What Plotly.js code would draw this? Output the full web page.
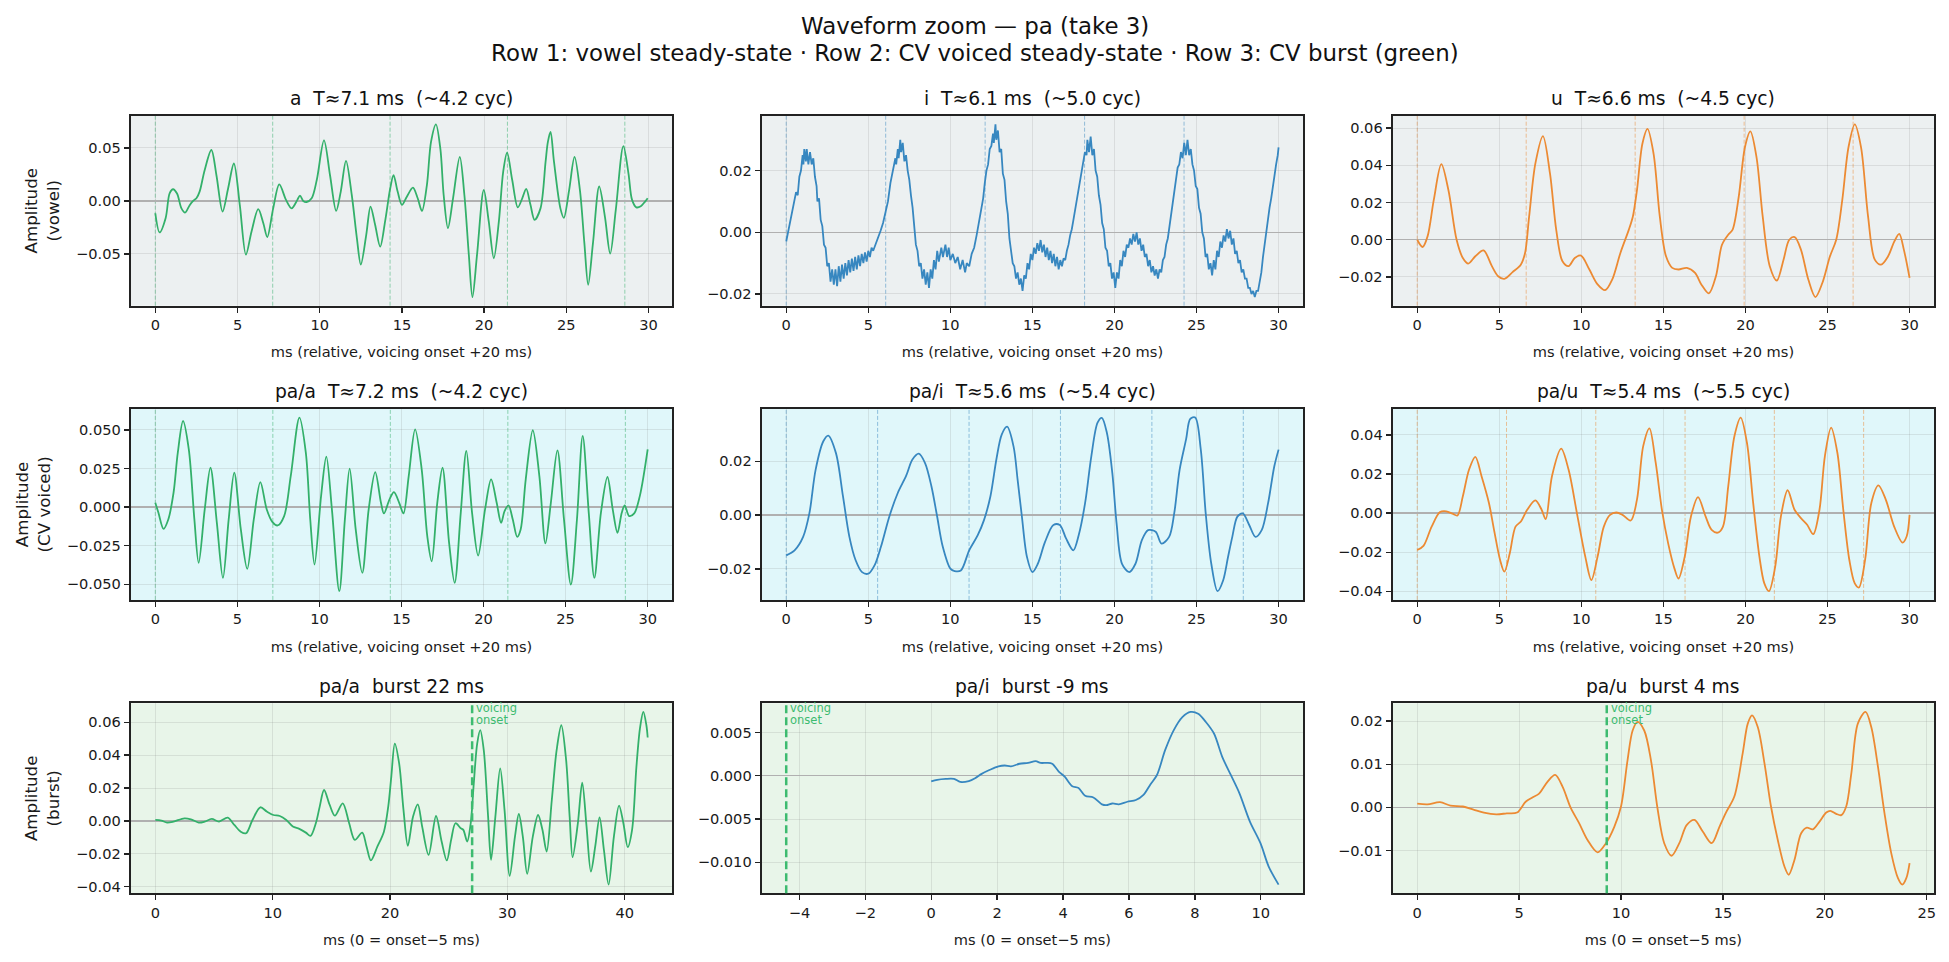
<!DOCTYPE html>
<html>
<head>
<meta charset="utf-8">
<script src="https://cdn.plot.ly/plotly-3.0.1.min.js"></script>
<style>
  html, body { margin: 0; padding: 0; background: #ffffff; }
  #chart { width: 1949px; height: 962px; }
</style>
</head>
<body>
<div id="chart"></div>
<script>
// ---- waveform samples: [time (ms), amplitude] ----
const vowelA = [[0,-0.0116],[0.26,-0.0297],[0.63,-0.016],[0.87,0.0072],[1.08,0.011],[1.32,0.007],[1.59,-0.007],[1.81,-0.011],[2.09,-0.004],[2.3,0],[2.5,0.0025],[2.7,0.009],[3.0,0.029],[3.41,0.048],[3.72,0.024],[4.09,-0.010],[4.43,0.012],[4.78,0.0353],[5.14,-0.004],[5.51,-0.0506],[5.85,-0.029],[6.26,-0.0078],[6.57,-0.021],[6.81,-0.034],[7.17,-0.007],[7.54,0.0156],[7.95,0.001],[8.29,-0.007],[8.64,0.001],[8.8,0.005],[9.0,0],[9.2,-0.001],[9.51,0.0025],[9.82,0.0197],[10.26,0.057],[10.63,0.024],[11.0,-0.0094],[11.28,0.0088],[11.6,0.0378],[11.95,0.0056],[12.26,-0.035],[12.5,-0.060],[12.83,-0.032],[13.09,-0.0053],[13.37,-0.0225],[13.68,-0.043],[13.98,-0.019],[14.29,0.012],[14.49,0.0244],[14.74,0.0088],[15.0,-0.0037],[15.3,0.004],[15.67,0.0125],[15.96,0.0025],[16.22,-0.0094],[16.52,0.015],[16.77,0.0556],[17.07,0.0722],[17.34,0.049],[17.54,0.0056],[17.8,-0.0256],[18.11,0.0025],[18.52,0.0416],[18.8,0.0056],[19.07,-0.0506],[19.29,-0.0906],[19.57,-0.0506],[19.98,0.0103],[20.28,-0.019],[20.59,-0.054],[20.9,-0.019],[21.16,0.0275],[21.4,0.0456],[21.71,0.0197],[22.05,-0.006],[22.32,0.0025],[22.56,0.0113],[22.82,-0.0037],[23.07,-0.0178],[23.43,-0.007],[23.74,0.037],[23.88,0.0556],[24.04,0.065],[24.25,0.037],[24.64,-0.007],[24.85,-0.016],[25.17,0.010],[25.5,0.0415],[25.83,0.010],[26.1,-0.040],[26.33,-0.079],[26.62,-0.040],[27.0,0.0136],[27.35,-0.015],[27.67,-0.0497],[28.01,-0.0085],[28.47,0.0516],[28.78,0.026],[29.0,0.001],[29.26,-0.006],[29.53,-0.005],[29.79,-0.0006],[29.95,0.0025]];

const vowelI = [[0,-0.003],[0.15,0.001],[0.3,0.005],[0.45,0.008],[0.6,0.013],[0.7,0.012],[0.8,0.018],[0.9,0.020],[1.0,0.025],[1.05,0.022],[1.1,0.027],[1.2,0.023],[1.25,0.027],[1.35,0.022],[1.45,0.026],[1.55,0.022],[1.65,0.024],[1.75,0.018],[1.85,0.015],[1.9,0.010],[2.0,0.011],[2.1,0.004],[2.2,0.002],[2.3,-0.004],[2.4,-0.005],[2.5,-0.011],[2.6,-0.010],[2.7,-0.016],[2.8,-0.012],[2.9,-0.017],[3.0,-0.012],[3.1,-0.0175],[3.2,-0.011],[3.3,-0.016],[3.4,-0.0105],[3.5,-0.015],[3.6,-0.010],[3.7,-0.014],[3.8,-0.009],[3.9,-0.013],[4.0,-0.0085],[4.1,-0.0125],[4.2,-0.008],[4.3,-0.012],[4.4,-0.0075],[4.5,-0.011],[4.6,-0.007],[4.7,-0.010],[4.8,-0.0065],[4.9,-0.0095],[5.0,-0.006],[5.1,-0.008],[5.2,-0.005],[5.3,-0.006],[5.45,-0.004],[5.6,-0.002],[5.75,0.0005],[5.9,0.003],[6.05,0.007],[6.2,0.010],[6.35,0.016],[6.45,0.019],[6.55,0.022],[6.65,0.024],[6.7,0.022],[6.8,0.027],[6.85,0.024],[6.95,0.030],[7.0,0.026],[7.1,0.029],[7.2,0.023],[7.3,0.025],[7.4,0.020],[7.5,0.017],[7.6,0.012],[7.7,0.008],[7.8,0.002],[7.9,-0.004],[8.0,-0.006],[8.1,-0.011],[8.2,-0.010],[8.3,-0.015],[8.4,-0.012],[8.5,-0.017],[8.6,-0.013],[8.7,-0.018],[8.8,-0.012],[8.9,-0.015],[9.0,-0.009],[9.1,-0.012],[9.2,-0.006],[9.3,-0.0095],[9.45,-0.005],[9.55,-0.008],[9.7,-0.004],[9.8,-0.008],[9.9,-0.005],[10.0,-0.009],[10.15,-0.007],[10.3,-0.010],[10.45,-0.008],[10.6,-0.012],[10.75,-0.009],[10.9,-0.013],[11.0,-0.010],[11.15,-0.011],[11.3,-0.007],[11.45,-0.005],[11.6,-0.001],[11.75,0.004],[11.9,0.009],[12.0,0.011],[12.1,0.016],[12.2,0.020],[12.3,0.022],[12.4,0.027],[12.5,0.028],[12.6,0.032],[12.65,0.029],[12.75,0.035],[12.8,0.030],[12.9,0.033],[13.0,0.026],[13.1,0.027],[13.2,0.019],[13.3,0.017],[13.4,0.010],[13.5,0.006],[13.6,-0.002],[13.7,-0.006],[13.8,-0.010],[13.9,-0.011],[14.0,-0.015],[14.1,-0.013],[14.2,-0.017],[14.3,-0.015],[14.4,-0.019],[14.5,-0.014],[14.6,-0.015],[14.7,-0.010],[14.8,-0.012],[14.9,-0.007],[15.0,-0.009],[15.1,-0.005],[15.2,-0.007],[15.3,-0.0035],[15.4,-0.006],[15.5,-0.0025],[15.6,-0.0065],[15.7,-0.004],[15.8,-0.008],[15.9,-0.005],[16.0,-0.009],[16.1,-0.006],[16.2,-0.010],[16.3,-0.007],[16.4,-0.011],[16.5,-0.008],[16.6,-0.012],[16.7,-0.009],[16.8,-0.011],[16.9,-0.0085],[17.0,-0.009],[17.1,-0.006],[17.2,-0.004],[17.3,-0.001],[17.4,0.001],[17.5,0.004],[17.6,0.007],[17.7,0.010],[17.8,0.013],[17.9,0.016],[18.0,0.020],[18.1,0.022],[18.2,0.026],[18.3,0.025],[18.35,0.030],[18.45,0.026],[18.55,0.031],[18.65,0.025],[18.75,0.027],[18.85,0.020],[18.95,0.018],[19.05,0.012],[19.15,0.009],[19.25,0.003],[19.35,0.001],[19.45,-0.005],[19.55,-0.006],[19.65,-0.011],[19.75,-0.010],[19.85,-0.015],[19.95,-0.013],[20.05,-0.018],[20.15,-0.013],[20.25,-0.015],[20.35,-0.009],[20.45,-0.011],[20.55,-0.006],[20.65,-0.008],[20.75,-0.004],[20.85,-0.005],[20.95,-0.002],[21.05,-0.004],[21.15,-0.0005],[21.25,-0.003],[21.35,0.0],[21.45,-0.004],[21.55,-0.002],[21.65,-0.006],[21.75,-0.004],[21.85,-0.008],[21.95,-0.007],[22.05,-0.011],[22.15,-0.009],[22.25,-0.013],[22.35,-0.011],[22.45,-0.014],[22.55,-0.012],[22.65,-0.015],[22.75,-0.012],[22.85,-0.013],[22.95,-0.009],[23.05,-0.008],[23.15,-0.004],[23.25,-0.002],[23.35,0.002],[23.45,0.005],[23.55,0.010],[23.65,0.013],[23.75,0.017],[23.85,0.021],[23.95,0.022],[24.05,0.026],[24.15,0.024],[24.25,0.029],[24.35,0.025],[24.45,0.030],[24.55,0.025],[24.65,0.027],[24.75,0.022],[24.85,0.020],[24.95,0.015],[25.05,0.014],[25.15,0.008],[25.25,0.006],[25.35,0.000],[25.45,-0.002],[25.55,-0.008],[25.65,-0.007],[25.75,-0.012],[25.85,-0.010],[25.95,-0.014],[26.05,-0.009],[26.15,-0.012],[26.25,-0.006],[26.35,-0.008],[26.45,-0.003],[26.55,-0.005],[26.65,-0.001],[26.75,-0.003],[26.85,0.001],[26.95,-0.002],[27.05,0.0005],[27.15,-0.004],[27.25,-0.002],[27.35,-0.007],[27.45,-0.006],[27.55,-0.010],[27.65,-0.009],[27.75,-0.013],[27.85,-0.012],[27.95,-0.015],[28.05,-0.015],[28.15,-0.018],[28.25,-0.018],[28.35,-0.020],[28.45,-0.019],[28.55,-0.021],[28.65,-0.019],[28.75,-0.019],[28.85,-0.016],[28.95,-0.013],[29.05,-0.008],[29.15,-0.004],[29.25,0.001],[29.35,0.004],[29.45,0.008],[29.55,0.011],[29.65,0.015],[29.75,0.018],[29.85,0.022],[29.95,0.025],[30.0,0.0275]];

const vowelU = [[0,0],[0.33,-0.0039],[0.63,0.0018],[1.01,0.0214],[1.47,0.0406],[1.9,0.0267],[2.4,0.0],[2.78,-0.0098],[3.11,-0.0128],[3.54,-0.0089],[4.04,-0.0057],[4.55,-0.0142],[4.93,-0.0196],[5.31,-0.021],[5.81,-0.0174],[6.31,-0.0134],[6.57,-0.0071],[6.82,0.0125],[7.2,0.041],[7.66,0.0557],[8.09,0.0356],[8.47,0.0053],[8.85,-0.0116],[9.22,-0.0142],[9.6,-0.0098],[9.98,-0.0085],[10.49,-0.016],[10.99,-0.024],[11.45,-0.0271],[11.88,-0.0214],[12.38,-0.0071],[12.89,0.0053],[13.14,0.0125],[13.39,0.0267],[13.72,0.0516],[14.03,0.0596],[14.4,0.0463],[14.78,0.0125],[15.16,-0.0089],[15.54,-0.0151],[15.92,-0.016],[16.43,-0.0151],[16.93,-0.0178],[17.31,-0.024],[17.77,-0.0288],[18.2,-0.0196],[18.57,-0.0027],[18.95,0.0027],[19.21,0.0053],[19.59,0.0231],[19.97,0.0498],[20.3,0.0582],[20.67,0.0445],[21.05,0.0125],[21.48,-0.0142],[21.91,-0.0219],[22.32,-0.0107],[22.67,0.0],[23.0,0.0014],[23.38,-0.0053],[23.83,-0.0214],[24.26,-0.0308],[24.69,-0.0231],[25.15,-0.0089],[25.53,0.0],[25.9,0.0214],[26.28,0.0498],[26.66,0.062],[27.04,0.0498],[27.47,0.0125],[27.88,-0.0107],[28.26,-0.0134],[28.69,-0.0089],[29.07,-0.0009],[29.37,0.0032],[29.65,-0.0053],[30.0,-0.0205]];

const cvA = [[0,0.0028],[0.19,-0.0037],[0.5,-0.0141],[0.79,-0.008],[1.11,0.0093],[1.37,0.0353],[1.69,0.0558],[2.04,0.0374],[2.38,-0.008],[2.64,-0.0361],[3.01,-0.0015],[3.36,0.0255],[3.75,-0.0102],[4.12,-0.0459],[4.47,-0.008],[4.81,0.0223],[5.21,-0.0145],[5.6,-0.040],[6.0,-0.008],[6.4,0.0162],[6.79,-0.0015],[7.14,-0.0097],[7.45,-0.0119],[7.85,-0.0058],[8.25,0.020],[8.78,0.058],[9.17,0.0353],[9.44,-0.008],[9.7,-0.0372],[10.1,0.0071],[10.42,0.0327],[10.76,-0.0015],[11.21,-0.0545],[11.55,-0.008],[11.84,0.0249],[12.21,-0.0145],[12.61,-0.0426],[13.0,-0.0015],[13.4,0.0227],[13.75,0.0028],[13.93,-0.0041],[14.27,0.005],[14.54,0.0097],[14.86,0.0028],[15.12,-0.0041],[15.44,0.0201],[15.83,0.0504],[16.23,0.0245],[16.57,-0.0188],[16.84,-0.0351],[17.18,0.0028],[17.5,0.0255],[17.9,-0.0232],[18.24,-0.0491],[18.61,-0.0037],[18.95,0.0364],[19.3,-0.0037],[19.67,-0.0314],[20.09,-0.0015],[20.46,0.018],[20.8,0.0028],[21.07,-0.0102],[21.28,-0.0026],[21.52,0.0011],[21.78,-0.008],[22.05,-0.0193],[22.26,-0.0145],[22.57,0.018],[23.0,0.0498],[23.4,0.0201],[23.77,-0.0235],[24.1,0.0028],[24.5,0.0368],[24.9,-0.008],[25.32,-0.0502],[25.69,-0.008],[26.04,0.0461],[26.41,-0.0037],[26.75,-0.0459],[27.15,-0.0037],[27.55,0.0195],[27.87,-0.0015],[28.16,-0.0167],[28.42,-0.0037],[28.6,0.0011],[28.87,-0.0058],[29.18,-0.0041],[29.52,0.0071],[30.0,0.0374]];

const cvI = [[0,-0.015],[0.51,-0.0131],[1.03,-0.0081],[1.41,0.0006],[1.79,0.0168],[2.26,0.0274],[2.56,0.0295],[3.03,0.023],[3.46,0.0069],[3.85,-0.0081],[4.23,-0.0168],[4.62,-0.0212],[5.0,-0.0218],[5.38,-0.0187],[5.77,-0.0118],[6.28,-0.0006],[6.79,0.0081],[7.31,0.0146],[7.69,0.0206],[8.08,0.0228],[8.46,0.0193],[8.85,0.0106],[9.18,0.0],[9.54,-0.0118],[10.0,-0.0199],[10.26,-0.0208],[10.64,-0.0206],[11.15,-0.0131],[11.67,-0.0075],[12.05,-0.0019],[12.44,0.0069],[12.82,0.0212],[13.13,0.0299],[13.46,0.0328],[13.85,0.0255],[14.1,0.0131],[14.36,-0.0006],[14.67,-0.0156],[15.0,-0.0212],[15.33,-0.0181],[15.77,-0.01],[16.28,-0.0037],[16.67,-0.0037],[17.05,-0.0087],[17.49,-0.0131],[17.82,-0.0075],[18.21,0.0044],[18.59,0.0218],[18.97,0.0343],[19.23,0.0361],[19.54,0.0305],[19.87,0.0156],[20.13,-0.0031],[20.46,-0.0181],[20.9,-0.0212],[21.28,-0.0181],[21.67,-0.0093],[22.05,-0.0056],[22.51,-0.0062],[22.87,-0.0106],[23.33,-0.0081],[23.64,0.0006],[23.97,0.0168],[24.36,0.028],[24.62,0.0357],[24.92,0.0362],[25.26,0.0243],[25.56,0.0006],[25.9,-0.0181],[26.28,-0.0283],[26.62,-0.0243],[26.92,-0.0156],[27.18,-0.0081],[27.49,-0.0006],[27.82,0.0006],[28.21,-0.0037],[28.59,-0.0081],[28.97,-0.0056],[29.36,0.0044],[29.74,0.0181],[30.0,0.0243]];

const cvU = [[0,-0.0189],[0.38,-0.0168],[0.88,-0.0069],[1.39,0.0005],[1.77,0.0009],[2.15,-0.0003],[2.45,-0.0012],[2.78,0.0086],[3.16,0.0223],[3.54,0.0288],[3.92,0.0189],[4.37,0.0052],[4.68,-0.0086],[5.05,-0.024],[5.31,-0.030],[5.64,-0.0206],[5.99,-0.0069],[6.32,-0.0043],[6.7,0.0017],[7.2,0.0065],[7.58,0.0017],[7.83,-0.0031],[8.21,0.0189],[8.77,0.033],[9.22,0.0223],[9.73,0.0],[10.24,-0.0223],[10.61,-0.0343],[10.99,-0.0223],[11.37,-0.0069],[11.75,-0.0009],[12.13,0.0003],[12.51,-0.0009],[13.01,-0.0038],[13.39,0.0069],[13.77,0.0343],[14.15,0.0434],[14.53,0.0258],[14.91,0.0017],[15.29,-0.0155],[15.67,-0.0283],[15.92,-0.0335],[16.3,-0.0223],[16.68,-0.0017],[17.11,0.0082],[17.57,-0.0017],[17.94,-0.0086],[18.32,-0.01],[18.63,-0.0069],[18.95,0.0137],[19.33,0.0395],[19.71,0.0489],[20.09,0.036],[20.47,0.0052],[20.85,-0.0223],[21.15,-0.036],[21.43,-0.040],[21.81,-0.0275],[22.16,-0.0017],[22.57,0.0117],[22.99,0.0017],[23.38,-0.0026],[23.76,-0.006],[24.13,-0.0108],[24.51,0.0017],[24.84,0.0292],[25.22,0.0438],[25.6,0.0309],[25.96,0.0017],[26.33,-0.024],[26.66,-0.036],[26.91,-0.0381],[27.29,-0.024],[27.67,0.0052],[28.1,0.0142],[28.55,0.0069],[29.06,-0.0069],[29.57,-0.0151],[29.82,-0.012],[30.0,-0.0009]];

const burstA = [[0,0.0006],[0.52,0.0002],[1.0,-0.001],[1.55,-0.0004],[2.48,0.0016],[3.03,0.001],[3.7,-0.001],[4.21,-0.0004],[4.81,0.0012],[5.43,-0.0004],[6.17,0.002],[6.73,-0.0024],[7.28,-0.0065],[7.73,-0.0075],[8.28,0.0006],[8.95,0.0083],[9.5,0.0057],[10.06,0.0036],[10.61,0.003],[11.16,0.0006],[11.72,-0.0034],[12.27,-0.0048],[12.83,-0.0071],[13.23,-0.0091],[13.68,-0.0014],[14.01,0.0087],[14.38,0.0188],[14.86,0.0097],[15.3,0.0032],[15.97,0.0107],[16.52,-0.0014],[17.0,-0.0115],[17.63,-0.0071],[18.0,-0.0155],[18.37,-0.024],[18.93,-0.0155],[19.48,-0.0065],[19.85,0.0087],[20.11,0.0268],[20.41,0.047],[20.78,0.0349],[21.15,0.0067],[21.52,-0.0151],[21.96,0.0026],[22.37,0.0101],[22.74,-0.0034],[23.29,-0.0206],[23.92,0.003],[24.4,-0.0125],[24.84,-0.024],[25.21,-0.0115],[25.58,-0.0014],[26.03,-0.0044],[26.25,-0.0054],[26.58,-0.0125],[26.88,-0.0014],[27.14,0.0228],[27.43,0.047],[27.69,0.0551],[27.99,0.043],[28.36,0.0026],[28.61,-0.0236],[28.98,0.0026],[29.39,0.0319],[29.76,0.0067],[30.2,-0.0333],[30.65,-0.0095],[30.98,0.0042],[31.32,-0.0095],[31.69,-0.0321],[32.17,-0.0095],[32.62,0.0036],[32.99,-0.0054],[33.35,-0.0186],[33.79,0.0127],[34.2,0.043],[34.6,0.0581],[35.01,0.0369],[35.31,0.0026],[35.56,-0.022],[36.01,-0.0014],[36.38,0.0232],[36.75,-0.0034],[37.12,-0.0307],[37.49,-0.0155],[37.86,0.0022],[38.23,-0.0176],[38.63,-0.0387],[39.08,-0.0095],[39.52,0.0093],[39.89,-0.0014],[40.26,-0.0159],[40.63,-0.0054],[41.0,0.0329],[41.3,0.0561],[41.59,0.0662],[41.85,0.0581],[41.96,0.0507]];

const burstI = [[0,-0.00065],[0.18,-0.00046],[0.44,-0.00035],[0.69,-0.00035],[0.88,-0.0007],[1.14,-0.0006],[1.33,-0.00027],[1.53,0.00023],[1.78,0.0007],[2.04,0.0011],[2.23,0.0012],[2.42,0.0011],[2.68,0.0014],[2.94,0.0015],[3.17,0.0017],[3.32,0.0015],[3.51,0.0015],[3.67,0.0014],[3.87,0.0005],[4.05,-0.0001],[4.28,-0.0012],[4.47,-0.0014],[4.67,-0.0023],[4.92,-0.0025],[5.18,-0.0033],[5.31,-0.0034],[5.5,-0.0032],[5.69,-0.0033],[5.95,-0.003],[6.21,-0.0028],[6.44,-0.0022],[6.65,-0.001],[6.85,0.0001],[7.1,0.003],[7.36,0.0053],[7.62,0.0068],[7.87,0.0074],[8.1,0.0072],[8.32,0.0063],[8.58,0.0049],[8.83,0.0022],[9.09,0.0001],[9.35,-0.002],[9.67,-0.0053],[9.99,-0.0078],[10.24,-0.0105],[10.54,-0.0126]];

const burstU = [[0,0.00085],[0.51,0.0007],[1.12,0.0012],[1.63,0.0004],[2.24,0.0002],[2.76,-0.0005],[3.27,-0.0012],[3.88,-0.0016],[4.39,-0.0014],[4.9,-0.0012],[5.32,0.0013],[5.65,0.0023],[5.98,0.0032],[6.39,0.0059],[6.77,0.0075],[7.13,0.0048],[7.54,-0.0002],[7.95,-0.0037],[8.35,-0.0075],[8.85,-0.0104],[9.26,-0.0083],[9.67,-0.0045],[10.0,0.0002],[10.32,0.0109],[10.57,0.0178],[10.81,0.0198],[11.14,0.0178],[11.47,0.0109],[11.79,-0.0002],[12.12,-0.0083],[12.48,-0.0112],[12.86,-0.0083],[13.22,-0.0041],[13.6,-0.0029],[14.01,-0.0056],[14.45,-0.0083],[14.83,-0.0045],[15.15,-0.0012],[15.56,0.0025],[15.97,0.0125],[16.22,0.0194],[16.43,0.0213],[16.71,0.0186],[17.04,0.0102],[17.36,0.0002],[17.69,-0.0075],[18.02,-0.0137],[18.23,-0.0156],[18.51,-0.0122],[18.84,-0.006],[19.12,-0.0047],[19.41,-0.0051],[19.74,-0.0033],[20.07,-0.0012],[20.27,-0.0008],[20.56,-0.0015],[20.81,-0.0018],[21.05,0.0002],[21.3,0.0078],[21.62,0.0194],[22.0,0.0221],[22.28,0.0186],[22.61,0.0094],[22.93,-0.0014],[23.26,-0.0106],[23.59,-0.0164],[23.8,-0.0179],[24.0,-0.0164],[24.16,-0.0129]];

// ---- labels and per-panel values ----
const vowelLabels = ['a', 'i', 'u'];
const cvLabels = ['pa/a', 'pa/i', 'pa/u'];
const rowNames = ['vowel', 'CV voiced', 'burst'];
const vowelPeriods = [7.14, 6.06, 6.64];   // ms
const cvPeriods = [7.16, 5.57, 5.44];      // ms
const burstMs = [22.0, -9.4, 4.3];         // burst time relative to voicing onset (ms)
const windowMs = 30;                       // steady-state window length
const onsetLead = 5;                       // burst window starts 5 ms before onset

// ---- styling ----
const FONT = 'DejaVu Sans, Liberation Sans, sans-serif';
const GREEN = '#33b06a', BLUE = '#3787c0', ORANGE = '#ec8a33';
const ONSET_GREEN = '#3dbb70';
const lineColors = [GREEN, BLUE, ORANGE];
const fadeColors = ['rgba(51,176,106,0.5)', 'rgba(55,135,192,0.5)', 'rgba(236,138,51,0.5)'];
const rowBg = ['#ecf0f1', '#e0f7fa', '#e8f5e9'];

const W = 1949, H = 962;
const colPx = [[130.7, 672.3], [761.6, 1303.2], [1392.6, 1934.2]];
const rowPx = [[115.7, 305.7], [408.9, 599.9], [703.3, 893.3]];

const panels = [];
vowelLabels.forEach((v, c) => {
  const T = vowelPeriods[c];
  panels.push({row: 0, col: c, data: [vowelA, vowelI, vowelU][c],
    title: `${v}\u00a0 T≈${T.toFixed(1)} ms\u00a0 (~${(windowMs / T).toFixed(1)} cyc)`,
    period: T, xTitle: 'ms (relative, voicing onset +20 ms)'});
});
cvLabels.forEach((v, c) => {
  const T = cvPeriods[c];
  panels.push({row: 1, col: c, data: [cvA, cvI, cvU][c],
    title: `${v}\u00a0 T≈${T.toFixed(1)} ms\u00a0 (~${(windowMs / T).toFixed(1)} cyc)`,
    period: T, xTitle: 'ms (relative, voicing onset +20 ms)'});
});
cvLabels.forEach((v, c) => {
  panels.push({row: 2, col: c, data: [burstA, burstI, burstU][c],
    title: `${v}\u00a0 burst ${Math.round(burstMs[c])} ms`,
    onset: burstMs[c] + onsetLead, xTitle: 'ms (0 = onset\u22125 ms)'});
});

const yTick = [[0.05, '.2f'], [0.02, '.2f'], [0.02, '.2f'],
               [0.025, '.3f'], [0.02, '.2f'], [0.02, '.2f'],
               [0.02, '.2f'], [0.005, '.3f'], [0.01, '.2f']];
const xTick = [5, 5, 5, 5, 5, 5, 10, 2, 5];

const traces = [], shapes = [], annotations = [];
const layout = {
  width: W, height: H, margin: {l: 0, r: 0, t: 0, b: 0},
  paper_bgcolor: '#ffffff', plot_bgcolor: 'rgba(0,0,0,0)',
  showlegend: false, font: {family: FONT, color: '#1a1a1a'}
};

function padRange(lo, hi) {
  const s = hi - lo;
  return [lo - 0.05 * s, hi + 0.05 * s];
}

panels.forEach((p, k) => {
  const n = k + 1;
  const xa = 'x' + (n === 1 ? '' : n), ya = 'y' + (n === 1 ? '' : n);
  const xs = p.data.map(d => d[0]), ys = p.data.map(d => d[1]);
  let xlo = Math.min(...xs), xhi = Math.max(...xs);
  if (p.onset !== undefined) { xlo = Math.min(xlo, p.onset); xhi = Math.max(xhi, p.onset); }
  const xr = padRange(xlo, xhi);
  const yr = padRange(Math.min(...ys), Math.max(...ys));
  const [L, R] = colPx[p.col], [Tp, B] = rowPx[p.row];
  const color = lineColors[p.col];

  traces.push({
    type: 'scatter', mode: 'lines', x: xs, y: ys, xaxis: xa, yaxis: ya,
    line: {color: color, width: 1.8, shape: (p.row === 0 && p.col === 1) ? 'linear' : 'spline', smoothing: 0.9},
    hoverinfo: 'skip'
  });

  const axCommon = {
    showline: true, mirror: true, linecolor: '#222222', linewidth: 2,
    ticks: 'outside', ticklen: 5, tickwidth: 1.3, tickcolor: '#222222',
    tickfont: {family: FONT, size: 14.6, color: '#1a1a1a'},
    showgrid: true, gridcolor: 'rgba(120,120,120,0.16)', gridwidth: 1,
    fixedrange: true, automargin: false
  };
  layout['xaxis' + (n === 1 ? '' : n)] = Object.assign({}, axCommon, {
    domain: [L / W, R / W], range: xr, anchor: ya,
    tickmode: 'linear', tick0: 0, dtick: xTick[k], zeroline: false,
    title: {text: p.xTitle, font: {family: FONT, size: 14.6, color: '#1a1a1a'}, standoff: 15}
  });
  const yax = Object.assign({}, axCommon, {
    domain: [1 - B / H, 1 - Tp / H], range: yr, anchor: xa,
    tickmode: 'linear', tick0: 0, dtick: yTick[k][0], tickformat: yTick[k][1],
    zeroline: true, zerolinecolor: '#b0b0b0', zerolinewidth: 1.3
  });
  if (p.col === 0) {
    yax.title = {text: `Amplitude<br>(${rowNames[p.row]})`, font: {family: FONT, size: 16.7, color: '#1a1a1a'}, standoff: 12};
  }
  layout['yaxis' + (n === 1 ? '' : n)] = yax;

  // panel background
  shapes.push({type: 'rect', xref: xa + ' domain', yref: ya + ' domain', x0: 0, x1: 1, y0: 0, y1: 1,
    fillcolor: rowBg[p.row], line: {width: 0}, layer: 'below'});

  // cycle boundaries
  if (p.period) {
    for (let t = 0; t <= windowMs + 1e-9; t += p.period) {
      shapes.push({type: 'line', xref: xa, yref: ya + ' domain', x0: t, x1: t, y0: 0, y1: 1,
        line: {color: fadeColors[p.col], width: 1, dash: '4px,2px'}, layer: 'below'});
    }
  }

  // voicing onset marker
  if (p.onset !== undefined) {
    shapes.push({type: 'line', xref: xa, yref: ya + ' domain', x0: p.onset, x1: p.onset, y0: 0, y1: 1,
      line: {color: ONSET_GREEN, width: 2.5, dash: '8px,4px'}, layer: 'above'});
    ['voicing', 'onset'].forEach((word, j) => {
      annotations.push({xref: xa, yref: ya + ' domain', x: p.onset, y: 1, xanchor: 'left', yanchor: 'middle',
        xshift: 2, yshift: -5 - 12 * j, showarrow: false, text: word,
        font: {family: FONT, size: 11.5, color: ONSET_GREEN}});
    });
  }

  // subplot title
  annotations.push({xref: 'paper', yref: 'paper', x: (L + R) / 2 / W, y: 1 - (Tp - 17) / H,
    xanchor: 'center', yanchor: 'middle', showarrow: false, text: p.title,
    font: {family: FONT, size: 18.7, color: '#111111'}});
});

// figure title
annotations.push({xref: 'paper', yref: 'paper', x: 0.5, y: 1 - 26 / H, xanchor: 'center', yanchor: 'middle',
  showarrow: false, text: 'Waveform zoom — pa (take 3)', font: {family: FONT, size: 22.9, color: '#111111'}});
annotations.push({xref: 'paper', yref: 'paper', x: 0.5, y: 1 - 53 / H, xanchor: 'center', yanchor: 'middle',
  showarrow: false, text: 'Row 1: vowel steady-state · Row 2: CV voiced steady-state · Row 3: CV burst (green)',
  font: {family: FONT, size: 22.9, color: '#111111'}});

layout.shapes = shapes;
layout.annotations = annotations;

Plotly.newPlot('chart', traces, layout, {staticPlot: true, displayModeBar: false});
</script>
</body>
</html>
